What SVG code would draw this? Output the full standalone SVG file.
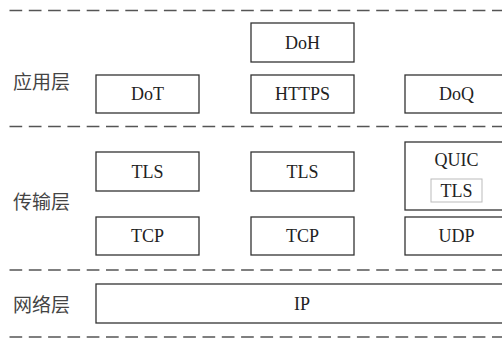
<svg xmlns="http://www.w3.org/2000/svg" width="502" height="338" viewBox="0 0 502 338">
<style>
.sep{stroke:#555;stroke-width:1.3;stroke-dasharray:12.7 6.6;fill:none}
.box rect{fill:#fff;stroke:#333;stroke-width:1.3}
.box text{font-family:"Liberation Serif","Times New Roman",serif;font-size:18px;fill:#222;text-anchor:middle;dominant-baseline:central}
.lbl{font-family:"Noto Sans CJK SC","Noto Sans",sans-serif;font-size:19px;fill:#444;dominant-baseline:central}
.box rect.inner{fill:#fff;stroke:#bbb;stroke-width:1}
</style>
<rect width="502" height="338" fill="#fff"/>
<g id="separators">
<line class="sep" x1="9.5" y1="10.5" x2="502" y2="10.5"/>
<line class="sep" x1="9.5" y1="126.5" x2="502" y2="126.5"/>
<line class="sep" x1="9.5" y1="270" x2="502" y2="270"/>
<line class="sep" x1="9.5" y1="337" x2="502" y2="337"/>
</g>
<g id="labels">
<text class="lbl" x="13" y="80">应用层</text>
<text class="lbl" x="13" y="200">传输层</text>
<text class="lbl" x="13" y="303">网络层</text>
</g>
<g id="doh" class="box"><rect x="251" y="23" width="103" height="39"/><text x="302.5" y="42.5">DoH</text></g>
<g id="dot" class="box"><rect x="96" y="75" width="103" height="38"/><text x="147.5" y="94">DoT</text></g>
<g id="https" class="box"><rect x="251" y="75" width="103" height="38"/><text x="302.5" y="94">HTTPS</text></g>
<g id="doq" class="box"><rect x="405" y="75" width="103" height="38"/><text x="456.5" y="94">DoQ</text></g>
<g id="tls1" class="box"><rect x="96" y="152" width="103" height="39"/><text x="147.5" y="171.5">TLS</text></g>
<g id="tls2" class="box"><rect x="251" y="152" width="103" height="39"/><text x="302.5" y="171.5">TLS</text></g>
<g id="quic" class="box"><rect x="405" y="142" width="103" height="68"/><text x="456.5" y="160">QUIC</text>
<rect class="inner" x="431" y="179" width="51" height="23"/><text x="456.5" y="190.5">TLS</text></g>
<g id="tcp1" class="box"><rect x="96" y="217" width="103" height="38"/><text x="147.5" y="236">TCP</text></g>
<g id="tcp2" class="box"><rect x="251" y="217" width="103" height="38"/><text x="302.5" y="236">TCP</text></g>
<g id="udp" class="box"><rect x="405" y="217" width="103" height="38"/><text x="456.5" y="236">UDP</text></g>
<g id="ip" class="box"><rect x="96" y="284" width="412" height="39"/><text x="302" y="303.5">IP</text></g>
<g id="connectors"></g>
</svg>
